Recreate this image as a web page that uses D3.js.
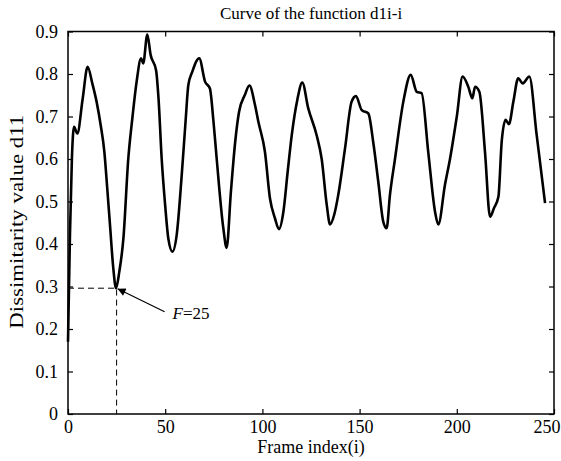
<!DOCTYPE html>
<html>
<head>
<meta charset="utf-8">
<script src="https://cdn.jsdelivr.net/npm/d3@7"></script>
<style>
  html, body { margin: 0; padding: 0; background: #fff; }
  text { font-family: "Liberation Serif", "Times New Roman", serif; fill: #000; }
</style>
</head>
<body>
<svg id="chart" width="561" height="461"></svg>
<script>
// Frame index and dissimilarity value d11 along the sequence
const frameIndex = [
  0, 1, 2, 3.1, 4.8, 7.5, 10.1, 12.5, 14.7, 16.8, 18.7, 20.2, 21.6, 23.3, 24.7, 26.4, 28.5, 31.0, 33.2, 35.3,
  37.6, 38.7, 40.8, 42.5, 45.3, 46.6, 48.2, 50.0, 51.6, 53.7, 55.9, 58.5, 60.5, 61.9, 63.9, 67.5, 70.5, 73.0,
  74.8, 76.5, 79.9, 81.6, 83.8, 86.0, 88.0, 91.0, 93.3, 96.2, 97.9, 101.3, 103.9, 106.5, 108.5, 110.8, 113.0,
  115.1, 118.0, 120.5, 123.6, 127.9, 130.5, 133.1, 134.8, 137.0, 139.0, 142.5, 145.9, 148.1, 151.1, 154.5,
  157.0, 159.6, 162.2, 163.9, 165.6, 168.2, 172.5, 176.3, 179.4, 181.9, 185.3, 188.8, 190.5, 193.9, 196.5,
  200.0, 203.0, 205.9, 208.0, 209.4, 211.6, 214.5, 217.1, 219.1, 221.4, 223.1, 225.1, 226.8, 229.1, 231.6,
  233.9, 237.3, 241.1, 245.4
];
const d11Values = [
  0.17, 0.42, 0.60, 0.676, 0.660, 0.740, 0.817, 0.778, 0.735, 0.680, 0.617, 0.530, 0.445, 0.343, 0.296, 0.335, 0.413, 0.600, 0.700, 0.782,
  0.837, 0.825, 0.893, 0.845, 0.809, 0.740, 0.600, 0.490, 0.413, 0.382, 0.421, 0.562, 0.690, 0.774, 0.805, 0.837, 0.782, 0.766,
  0.690, 0.600, 0.437, 0.391, 0.523, 0.640, 0.711, 0.751, 0.773, 0.727, 0.688, 0.617, 0.507, 0.460, 0.435, 0.476, 0.570,
  0.656, 0.740, 0.780, 0.719, 0.656, 0.600, 0.492, 0.446, 0.470, 0.515, 0.625, 0.735, 0.748, 0.715, 0.707,
  0.640, 0.547, 0.452, 0.437, 0.515, 0.600, 0.735, 0.798, 0.758, 0.755, 0.617, 0.476, 0.446, 0.539, 0.600,
  0.700, 0.794, 0.770, 0.743, 0.770, 0.758, 0.617, 0.464, 0.484, 0.511, 0.641, 0.692, 0.682, 0.735, 0.790,
  0.778, 0.794, 0.656, 0.496
];
const xTickValues = [0, 50, 100, 150, 200, 250];
const yTickValues = [0, 0.1, 0.2, 0.3, 0.4, 0.5, 0.6, 0.7, 0.8, 0.9];
const markedFrame = 25;
const markedValue = 0.296;

const svg = d3.select("#chart");
const margin = { left: 68, right: 7, top: 31.5, bottom: 47 };
const W = 561, H = 461;
const x = d3.scaleLinear().domain([0, 250]).range([margin.left, W - margin.right]);
const y = d3.scaleLinear().domain([0, 0.9]).range([H - margin.bottom, margin.top]);

const fmtY = d => d === 0 ? "0" : d3.format(".1f")(d);
const tickLen = 5;
const fontSize = 18;

// Axes: labelled bottom/left, mirrored inward ticks on top/right
const gx = svg.append("g").attr("transform", `translate(0,${y(0)})`)
  .call(d3.axisBottom(x).tickValues(xTickValues).tickSizeInner(-tickLen).tickSizeOuter(0).tickPadding(6));
const gy = svg.append("g").attr("transform", `translate(${x(0)},0)`)
  .call(d3.axisLeft(y).tickValues(yTickValues).tickFormat(fmtY).tickSizeInner(-tickLen).tickSizeOuter(0).tickPadding(10));
const gt = svg.append("g").attr("transform", `translate(0,${y(0.9)})`)
  .call(d3.axisTop(x).tickValues(xTickValues).tickSizeInner(-tickLen).tickSizeOuter(0).tickFormat(""));
const gr = svg.append("g").attr("transform", `translate(${x(250)},0)`)
  .call(d3.axisRight(y).tickValues(yTickValues).tickSizeInner(-tickLen).tickSizeOuter(0).tickFormat(""));

[gx, gy, gt, gr].forEach(g => {
  g.selectAll(".domain").remove();
  g.selectAll("line").attr("stroke", "#000").attr("stroke-width", 1.2);
  g.selectAll("text").attr("font-family", "Liberation Serif, Times New Roman, serif")
    .attr("font-size", fontSize).attr("fill", "#000");
});

// Keep the last x label inside the figure
gx.selectAll(".tick").filter(d => d === 250).select("text")
  .attr("text-anchor", "end").attr("x", W - 1 - x(250));

// Box frame
svg.append("rect")
  .attr("x", x(0)).attr("y", y(0.9))
  .attr("width", x(250) - x(0)).attr("height", y(0) - y(0.9))
  .attr("fill", "none").attr("stroke", "#000").attr("stroke-width", 1.5);

// Dashed guides to the marked minimum
svg.append("path")
  .attr("d", `M${x(0)},${y(markedValue)}H${x(markedFrame)}V${y(0)}`)
  .attr("fill", "none").attr("stroke", "#000").attr("stroke-width", 1)
  .attr("stroke-dasharray", "6,4");

// Curve
const pts = frameIndex.map((f, i) => [f, d11Values[i]]);
svg.append("path")
  .datum(pts)
  .attr("fill", "none").attr("stroke", "#000").attr("stroke-width", 2.6)
  .attr("stroke-linejoin", "round")
  .attr("d", d3.line().x(d => x(d[0])).y(d => y(d[1])).curve(d3.curveMonotoneX));

// Arrow annotation
svg.append("defs").append("marker")
  .attr("id", "arrowHead").attr("viewBox", "0 0 10 10")
  .attr("refX", 10).attr("refY", 5)
  .attr("markerWidth", 12).attr("markerHeight", 8)
  .attr("markerUnits", "userSpaceOnUse")
  .attr("orient", "auto")
  .append("path").attr("d", "M0,0L10,5L0,10Z").attr("fill", "#000");

const tipX = x(markedFrame) + 1, tipY = y(markedValue) + 0.5;
svg.append("line")
  .attr("x1", tipX + 47).attr("y1", tipY + 23)
  .attr("x2", tipX).attr("y2", tipY)
  .attr("stroke", "#000").attr("stroke-width", 1.2)
  .attr("marker-end", "url(#arrowHead)");

const ann = svg.append("text")
  .attr("x", tipX + 55).attr("y", tipY + 30)
  .attr("font-size", 17);
ann.append("tspan").attr("font-style", "italic").text("F");
ann.append("tspan").text("=" + markedFrame);

// Title and axis labels
svg.append("text")
  .attr("x", (x(0) + x(250)) / 2).attr("y", 19)
  .attr("text-anchor", "middle").attr("font-size", 17)
  .text("Curve of the function d1i-i");

svg.append("text")
  .attr("x", (x(0) + x(250)) / 2).attr("y", 453)
  .attr("text-anchor", "middle").attr("font-size", fontSize)
  .text("Frame index(i)");

svg.append("text")
  .attr("transform", `translate(23,${(y(0) + y(0.9)) / 2 - 1}) rotate(-90)`)
  .attr("text-anchor", "middle").attr("font-size", 19)
  .attr("textLength", 214).attr("lengthAdjust", "spacingAndGlyphs")
  .text("Dissimitarity value d11");
</script>
</body>
</html>
